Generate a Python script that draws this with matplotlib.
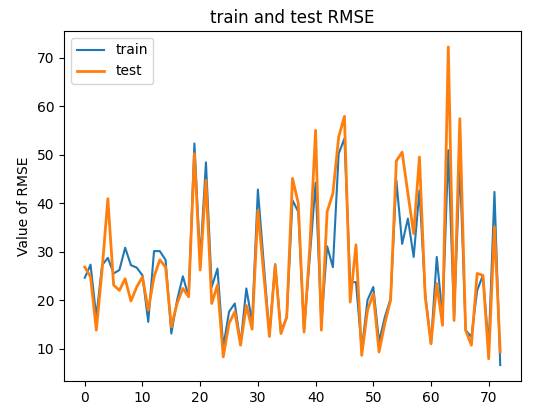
import matplotlib
matplotlib.use("Agg")
import matplotlib.pyplot as plt
import numpy as np

train_rmse = [24.6, 27.3, 16.5, 27.2, 28.7, 25.5, 26.2, 30.8, 27.2, 26.7,
              25.1, 15.5, 30.1, 30.1, 28.3, 13.1, 20.0, 24.9, 20.7, 52.3,
              28.2, 48.4, 22.7, 26.5, 10.3, 17.6, 19.3, 11.0, 22.4, 15.4,
              42.8, 27.8, 12.9, 27.4, 13.5, 16.5, 40.6, 38.2, 13.8, 28.9,
              44.2, 15.2, 31.1, 26.8, 50.2, 53.3, 23.7, 23.7, 9.7, 20.0,
              22.7, 11.4, 16.5, 20.3, 44.7, 31.6, 36.8, 28.9, 42.6, 21.3,
              11.0, 28.9, 16.5, 50.9, 16.5, 48.1, 13.8, 12.4, 22.0, 25.1,
              10.3, 42.3, 6.6]

test_rmse = [26.8, 24.8, 13.8, 26.2, 40.9, 23.1, 22.0, 24.4, 19.8, 22.7,
             24.8, 17.9, 24.8, 28.3, 26.8, 14.5, 19.3, 22.4, 20.7, 50.2,
             26.2, 44.7, 19.3, 23.1, 8.3, 15.2, 17.6, 10.7, 18.9, 14.0,
             38.5, 25.6, 12.5, 27.2, 13.1, 16.5, 45.1, 40.0, 13.4, 31.0,
             55.0, 13.8, 38.2, 42.0, 53.6, 57.9, 19.6, 31.4, 8.6, 17.9,
             21.3, 9.3, 15.2, 20.0, 48.7, 50.5, 42.0, 33.7, 49.5, 20.7,
             11.0, 23.4, 14.8, 72.2, 15.8, 57.4, 13.8, 10.7, 25.5, 25.1,
             7.9, 35.1, 9.3]

x = np.arange(len(train_rmse))

fig = plt.figure(figsize=(5.35, 4.11), dpi=100)
ax = fig.add_axes([64 / 535, 30 / 411, (521 - 64) / 535, (381 - 31) / 411])
ax.plot(x, train_rmse, color="#1f77b4", lw=1.5, label="train")
ax.plot(x, test_rmse, color="#ff7f0e", lw=2.0, label="test")
ax.set_title("train and test RMSE", fontsize=12)
ax.set_ylabel("Value of RMSE")
ax.set_xticks([0, 10, 20, 30, 40, 50, 60, 70])
ax.set_yticks([10, 20, 30, 40, 50, 60, 70])
ax.legend(loc="upper left")
fig.savefig("out.png", dpi=100)
